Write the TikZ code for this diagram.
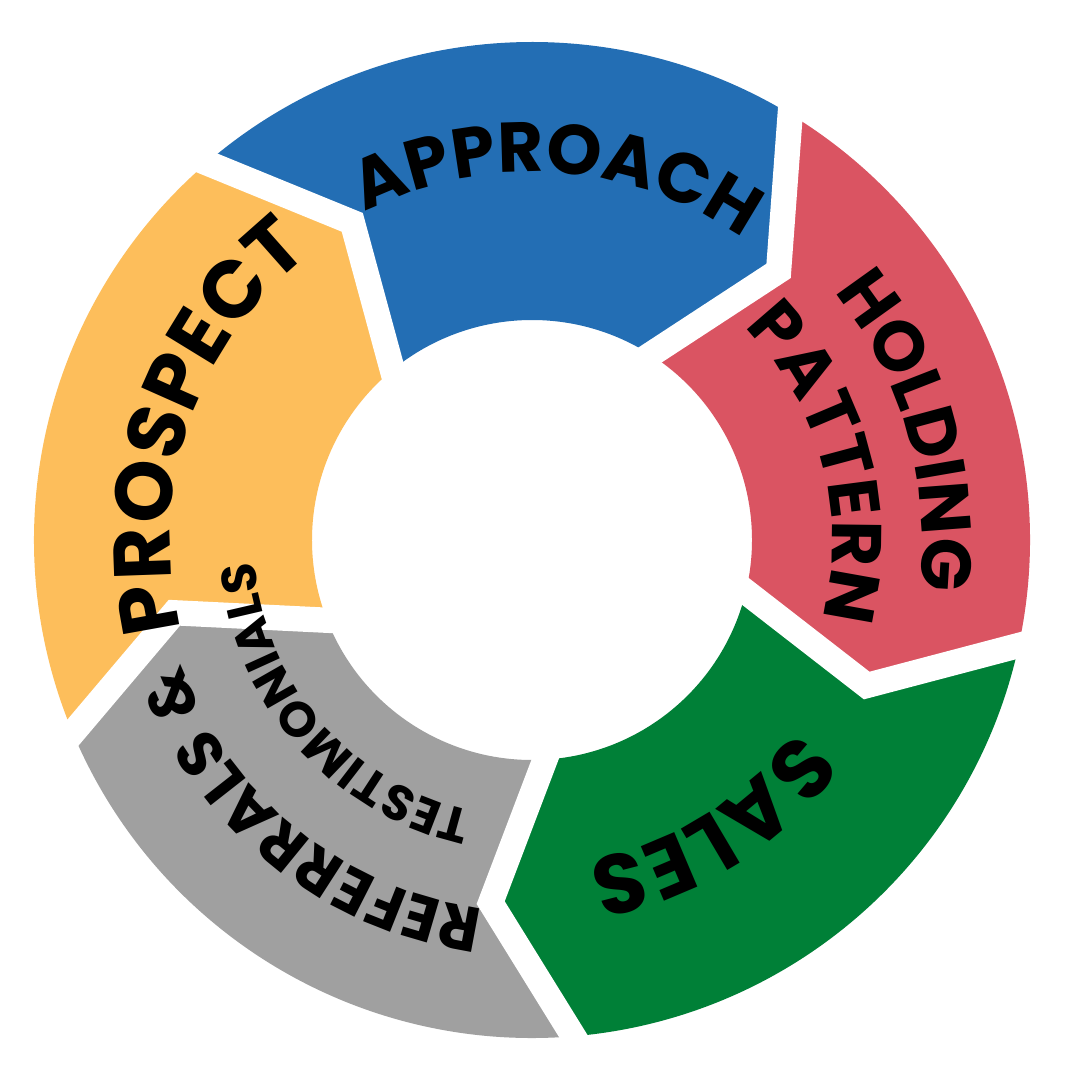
\documentclass[tikz,border=0pt]{standalone}
\usepackage{fontspec}
\newfontfamily\pop{Poppins}[LetterSpace=6]
\usetikzlibrary{decorations.text}
\definecolor{cP}{HTML}{FDBE5B}
\definecolor{cA}{HTML}{236EB4}
\definecolor{cH}{HTML}{DA5462}
\definecolor{cS}{HTML}{008037}
\definecolor{cR}{HTML}{A0A0A0}
\newcommand{\Ro}{4.98}
\newcommand{\Ri}{2.2}
\newcommand{\Rm}{3.65}
\newcommand{\dd}{12.5}
\newcommand{\seg}[3]{% color, start angle, end angle
  \fill[#1] (#2:\Ro) arc[start angle=#2, end angle=#3, radius=\Ro]
    -- ({#3-\dd}:\Rm) -- (#3:\Ri) arc[start angle=#3, end angle=#2, radius=\Ri]
    -- ({#2-\dd}:\Rm) -- cycle;}
\newcommand{\gapline}[1]{\draw[gapst] (#1:5.2) -- ({#1-\dd}:\Rm) -- (#1:2.0);}
\newcommand{\arctext}[4]{% radius, center angle, half span, text
  \path[decorate, decoration={text along path, text align=center, text={#4}}]
    ({#2+#3}:#1) arc[start angle={#2+#3}, end angle={#2-#3}, radius=#1];}
\tikzset{gapst/.style={white, line width=7.2pt, line join=miter}}
\newcommand{\tf}{\pop\bfseries\fontsize{20}{21}\selectfont}
\newcommand{\tfp}{\pop\bfseries\fontsize{23}{24}\selectfont}
\newcommand{\tfb}{\pop\bfseries\fontsize{24}{25}\selectfont}
\newcommand{\tfr}{\pop\bfseries\fontsize{18}{19}\selectfont}
\newcommand{\tfs}{\pop\bfseries\fontsize{14}{15}\selectfont}
\begin{document}
\begin{tikzpicture}
\useasboundingbox (-5.32,-5.40) rectangle (5.48,5.40);
\fill[white] (-5.32,-5.40) rectangle (5.48,5.40);
\seg{cP}{204}{132}
\seg{cA}{132}{60}
\seg{cH}{60}{-11}
\seg{cS}{-11}{-84}
\seg{cR}{276}{204}
\gapline{132}
\gapline{60}
\gapline{-11}
\gapline{-84}
\gapline{204}
\node (c) at (0,0) {};
\arctext{3.68}{86}{60}{|\tf|APPROACH}
\arctext{3.62}{161}{60}{|\tfp|PROSPECT}
\arctext{3.90}{16}{60}{|\tf|HOLDING}
\arctext{3.00}{15}{60}{|\tf|PATTERN}
\arctext{3.25}{-58}{60}{|\tfb|SALES}
\arctext{3.72}{-129}{70}{|\tfr|REFERRALS {\&}}
\arctext{2.78}{-139}{80}{|\tfs|TESTIMONIALS}
\end{tikzpicture}
\end{document}
